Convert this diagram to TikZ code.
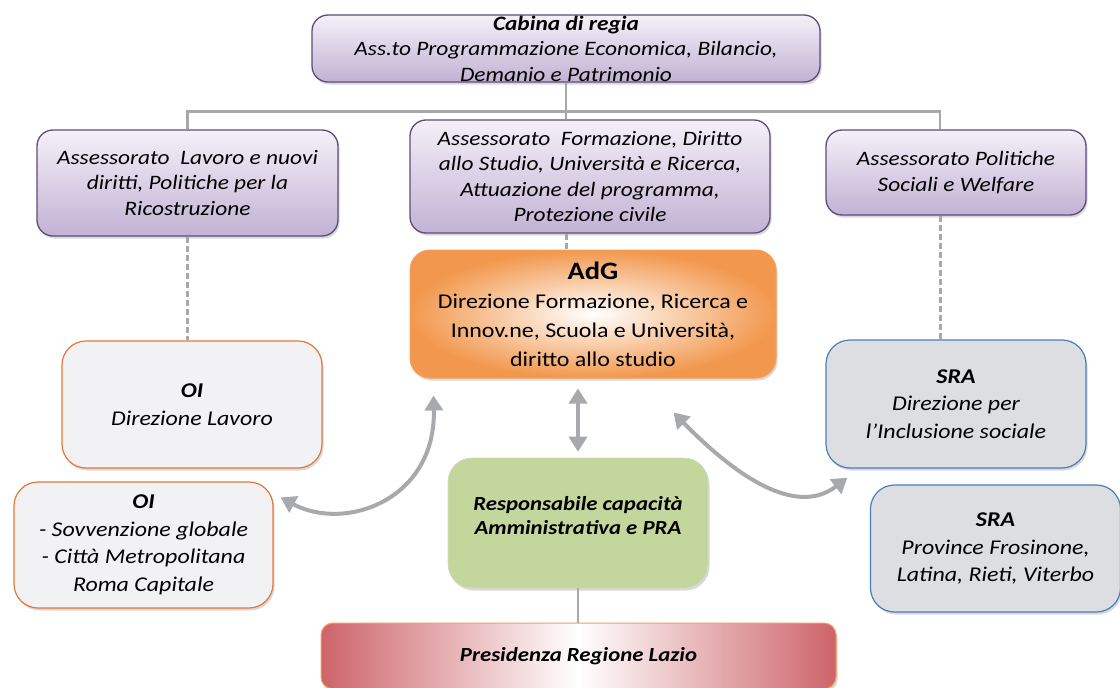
\documentclass[tikz,border=0pt]{standalone}
\usepackage{fontspec}
\setmainfont{Carlito}[FakeStretch=1.14]
\usetikzlibrary{arrows.meta,shadows}

\definecolor{lilla}{RGB}{244,240,248}
\definecolor{lilladark}{RGB}{194,178,212}
\definecolor{lillaedge}{RGB}{96,74,123}
\definecolor{adgorange}{RGB}{242,152,78}
\definecolor{adgedge}{RGB}{245,160,90}
\definecolor{oiedge}{RGB}{228,120,60}
\definecolor{oifill}{RGB}{242,242,244}
\definecolor{srafill}{RGB}{221,222,225}
\definecolor{sraedge}{RGB}{74,126,187}
\definecolor{pragreen}{RGB}{195,214,155}
\definecolor{lazred}{RGB}{206,100,106}
\definecolor{linegray}{RGB}{168,168,170}
\definecolor{arrowgray}{RGB}{167,169,172}

\begin{document}
\begin{tikzpicture}[x=1pt, y=-1pt,
    box/.style = {rounded corners=16pt, align=center, inner sep=0pt,
        drop shadow={shadow xshift=1.5pt, shadow yshift=-2.5pt, opacity=0.3}},
    ass/.style = {box, draw=lillaedge, line width=1.3pt, top color=lilla, bottom color=lilladark,
        font=\fontsize{20.5}{25.5}\selectfont\itshape},
    adgbox/.style = {box, rounded corners=20pt, draw=adgedge, line width=1pt, shading=radial,
        inner color=white, outer color=adgorange, font=\fontsize{21}{29}\selectfont},
    oi/.style = {box, rounded corners=24pt, draw=oiedge, line width=1.2pt, fill=oifill,
        font=\fontsize{21}{27.5}\selectfont\itshape},
    sra/.style = {box, rounded corners=24pt, draw=sraedge, line width=1.2pt, fill=srafill,
        font=\fontsize{21}{27.5}\selectfont\itshape},
    pra/.style = {box, rounded corners=24pt, draw=pragreen!90!black!60!white, line width=0.6pt, fill=pragreen,
        font=\fontsize{20}{24}\selectfont\bfseries\itshape},
    pres/.style = {box, rounded corners=12pt, draw=adgedge, line width=1pt, left color=lazred,
        right color=lazred, middle color=white, font=\fontsize{20}{24}\selectfont\bfseries\itshape},
    conn/.style = {draw=linegray, line width=2.5pt},
    dashconn/.style = {draw=linegray, line width=3pt, dash pattern=on 6pt off 3pt},
    bigarrow/.style = {draw=arrowgray, line width=4pt,
        {Triangle[length=15pt,width=18pt]}-{Triangle[length=15pt,width=18pt]}}]

    \useasboundingbox (0,0) rectangle (1120,688);

    \node[ass, minimum width=508pt, minimum height=67pt] (cabina) at (566,48.5)
        {{\bfseries Cabina di regia}\\Ass.to Programmazione Economica, Bilancio,\\Demanio e Patrimonio};
    \node[ass, minimum width=301pt, minimum height=106pt] (assLav) at (187.5,183)
        {Assessorato~ Lavoro e nuovi\\diritti, Politiche per la\\Ricostruzione};
    \node[ass, minimum width=360pt, minimum height=113pt] (assForm) at (590,176.5)
        {Assessorato~ Formazione, Diritto\\allo Studio, Università e Ricerca,\\Attuazione del programma,\\Protezione civile};
    \node[ass, minimum width=260pt, minimum height=85pt] (assSoc) at (956,172.5)
        {Assessorato Politiche\\Sociali e Welfare};

    \node[adgbox, minimum width=366pt, minimum height=128pt] (adg) at (593,314)
        {{\fontsize{25}{31}\selectfont\bfseries AdG}\\Direzione Formazione, Ricerca e\\Innov.ne, Scuola e Università,\\diritto allo studio};

    \node[oi, minimum width=260pt, minimum height=127pt] (oi1) at (192,404.5)
        {{\bfseries OI}\\Direzione Lavoro};
    \node[oi, minimum width=259pt, minimum height=126pt] (oi2) at (143.5,545)
        {{\bfseries OI}\\- Sovvenzione globale\\- Città Metropolitana\\Roma Capitale};

    \node[pra, minimum width=260pt, minimum height=130pt] (resp) at (578,523)
        {Responsabile capacità\\Amministrativa e PRA\\[-8pt]};

    \node[sra, minimum width=260pt, minimum height=128pt] (sra1) at (956,404)
        {{\bfseries SRA}\\Direzione per\\l’Inclusione sociale};
    \node[sra, minimum width=250pt, minimum height=127pt] (sra2) at (995.5,548.5)
        {{\bfseries SRA}\\Province Frosinone,\\Latina, Rieti, Viterbo};

    \node[pres, minimum width=515pt, minimum height=66pt] (pres) at (578.5,656)
        {Presidenza Regione Lazio};

    \draw[conn] (cabina.south) -- (cabina.south |- assForm.north);
    \draw[conn] (assLav.north) -- ++(0,-18) -| ([xshift=-16pt]assSoc.north);

    \draw[dashconn] (assLav.south) -- (assLav.south |- oi1.north);
    \draw[dashconn] (cabina.south |- assForm.south) -- (cabina.south |- adg.north);
    \draw[dashconn] ([xshift=-16pt]assSoc.south) -- ([xshift=-16pt]assSoc.south |- sra1.north);

    \draw[conn] (resp.south) -- (resp.south |- pres.north);

    \draw[bigarrow, shorten <=6pt, shorten >=10pt] (resp.north) -- (resp.north |- adg.south);
    \draw[bigarrow] ([shift={(7,16)}]oi2.north east) .. controls (345,532) and (436,500) .. ([shift={(24,17)}]adg.south west);
    \draw[bigarrow] ([shift={(-103,34)}]adg.south east) .. controls (720,460) and (790,522) .. ([shift={(22,9)}]sra1.south west);

\end{tikzpicture}
\end{document}
